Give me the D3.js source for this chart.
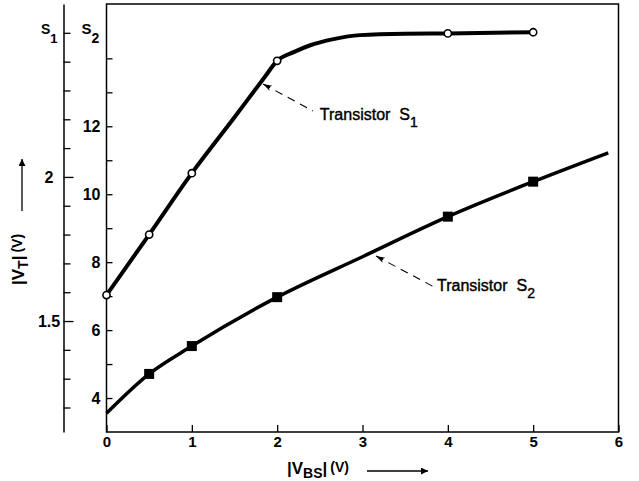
<!DOCTYPE html>
<html><head><meta charset="utf-8">
<script src="https://cdn.jsdelivr.net/npm/d3@7"></script>
<style>body{margin:0;background:#fff}svg{display:block}</style>
</head><body>
<svg id="c" width="639" height="481"></svg>
<script>
// ---- data ----
const xTicks = [0, 1, 2, 3, 4, 5, 6];
const s2Ticks = [4, 5, 6, 7, 8, 9, 10, 11, 12, 13, 14];
const s2Labels = [4, 6, 8, 10, 12];
const s1Ticks = [1.2, 1.3, 1.4, 1.5, 1.6, 1.7, 1.8, 1.9, 2.0, 2.1, 2.2, 2.3, 2.4, 2.5];
const s1Labels = [1.5, 2];

// Transistor S1 (read on the S1 axis)
const s1MarkX = [0, 0.5, 1, 2, 4, 5];
const s1MarkY = [1.59, 1.80, 2.013, 2.403, 2.498, 2.502];
const s1CurveX = [0, 0.5, 1, 1.5, 1.85, 2, 2.2, 2.38, 2.66, 2.97, 3.5, 4, 5];
const s1CurveY = [1.59, 1.80, 2.013, 2.207, 2.345, 2.403, 2.434, 2.456, 2.478, 2.492, 2.497, 2.498, 2.502];

// Transistor S2 (read on the S2 axis)
const s2MarkX = [0.5, 1, 2, 4, 5];
const s2MarkY = [4.71, 5.53, 6.97, 9.34, 10.37];
const s2CurveX = [0, 0.5, 1, 2, 3, 4, 5, 5.88];
const s2CurveY = [3.55, 4.71, 5.53, 6.97, 8.16, 9.34, 10.37, 11.22];

// annotation anchors (data coordinates)
const noteS1 = {tip: [1.834, 2.3225], tail: [2.42, 2.229], text: [2.5, 2.198]};
const noteS2 = {tip: [3.158, 8.18], tail: [3.838, 7.27], text: [3.873, 7.15]};

// ---- chart ----
const F = '"Liberation Sans", Arial, Helvetica, sans-serif';
const svg = d3.select('#c');
const x = d3.scaleLinear().domain([0, 6]).range([106.5, 618.5]);
const y2 = d3.scaleLinear().domain([3, 15.6]).range([432, 4]);
const y1 = d3.scaleLinear().domain([1.115, 2.6]).range([432, 4]);

const defs = svg.append('defs');
defs.append('marker').attr('id', 'ah').attr('viewBox', '0 0 10 10').attr('refX', 0).attr('refY', 5)
  .attr('markerWidth', 9).attr('markerHeight', 9).attr('markerUnits', 'userSpaceOnUse').attr('orient', 'auto')
  .append('path').attr('d', 'M0,5L10,1.8L7.5,5L10,8.2Z').attr('fill', '#000');
defs.append('marker').attr('id', 'big').attr('viewBox', '0 0 10 10').attr('refX', 10).attr('refY', 5)
  .attr('markerWidth', 9).attr('markerHeight', 7).attr('markerUnits', 'userSpaceOnUse').attr('orient', 'auto')
  .append('path').attr('d', 'M0,0L10,5L0,10Z').attr('fill', '#000');

// frame
svg.append('rect')
  .attr('x', x(0)).attr('y', y2(15.6))
  .attr('width', x(6) - x(0)).attr('height', y2(3) - y2(15.6))
  .attr('fill', 'none').attr('stroke', '#000').attr('stroke-width', 1.5);

function styleAxis(g, size) {
  g.selectAll('text').attr('font-family', F).attr('font-size', size).attr('font-weight', 'bold').attr('fill', '#000');
  g.selectAll('line').attr('stroke', '#000').attr('stroke-width', 1.3);
  g.select('.domain').attr('stroke', '#000').attr('stroke-width', 1.5);
}

// x axis
const gx = svg.append('g').attr('transform', `translate(0,${y2(3)})`)
  .call(d3.axisBottom(x).tickValues(xTicks).tickSize(-7).tickPadding(4).tickFormat(d3.format('d')));
gx.select('.domain').remove();
styleAxis(gx, 15);

// S2 axis (inner)
const gs2 = svg.append('g').attr('transform', `translate(${x(0)},0)`)
  .call(d3.axisLeft(y2).tickValues(s2Ticks).tickSize(-6).tickPadding(6)
    .tickFormat(d => s2Labels.includes(d) ? String(d) : ''));
gs2.select('.domain').remove();
styleAxis(gs2, 16);

// S1 axis (outer)
const gs1 = svg.append('g').attr('transform', 'translate(63.5,0)')
  .call(d3.axisLeft(y1).tickValues(s1Ticks).tickSizeInner(-7).tickSizeOuter(0)
    .tickFormat(d => s1Labels.includes(d) ? d3.format('')(d) : ''));
styleAxis(gs1, 16);
gs1.selectAll('.tick text').attr('x', -14.5).attr('text-anchor', 'middle');
gs1.selectAll('.tick').filter(d => s1Labels.includes(d)).select('line').attr('x2', 10);

// axis names S1 / S2
function subLabel(px, py, main, sub, fs) {
  const t = svg.append('text').attr('x', px).attr('y', py)
    .attr('font-family', F).attr('font-weight', 'bold').attr('font-size', fs);
  t.append('tspan').text(main);
  t.append('tspan').attr('dy', 9).attr('font-size', fs - 1).text(sub);
}
subLabel(41, 34, 'S', '1', 14);
subLabel(81.5, 34, 'S', '2', 15);

// curves
const lineS1 = d3.line().x(i => x(s1CurveX[i])).y(i => y1(s1CurveY[i])).curve(d3.curveMonotoneX);
const lineS2 = d3.line().x(i => x(s2CurveX[i])).y(i => y2(s2CurveY[i])).curve(d3.curveMonotoneX);
svg.append('path').attr('d', lineS1(d3.range(s1CurveX.length)))
  .attr('fill', 'none').attr('stroke', '#000').attr('stroke-width', 4).attr('stroke-linejoin', 'round');
svg.append('path').attr('d', lineS2(d3.range(s2CurveX.length)))
  .attr('fill', 'none').attr('stroke', '#000').attr('stroke-width', 3.5).attr('stroke-linejoin', 'round');

// markers
svg.append('g').selectAll('circle').data(d3.range(s1MarkX.length)).join('circle')
  .attr('cx', i => x(s1MarkX[i])).attr('cy', i => y1(s1MarkY[i])).attr('r', 3.6)
  .attr('fill', '#fff').attr('stroke', '#000').attr('stroke-width', 1.6);
const sq = 10;
svg.append('g').selectAll('rect').data(d3.range(s2MarkX.length)).join('rect')
  .attr('x', i => x(s2MarkX[i]) - sq / 2).attr('y', i => y2(s2MarkY[i]) - sq / 2)
  .attr('width', sq).attr('height', sq).attr('fill', '#000');

// annotations
function note(n, ys, sub) {
  svg.append('line')
    .attr('x1', x(n.tip[0])).attr('y1', ys(n.tip[1]))
    .attr('x2', x(n.tail[0])).attr('y2', ys(n.tail[1]))
    .attr('stroke', '#000').attr('stroke-width', 1.1).attr('stroke-dasharray', '8,6')
    .attr('marker-start', 'url(#ah)');
  const t = svg.append('text').attr('x', x(n.text[0])).attr('y', ys(n.text[1]))
    .attr('font-family', F).attr('font-size', 16).attr('fill', '#000')
    .attr('stroke', '#000').attr('stroke-width', 0.4);
  t.append('tspan').text('Transistor');
  t.append('tspan').attr('dx', 9).text('S');
  t.append('tspan').attr('dy', 7).attr('font-size', 14).text(sub);
}
note(noteS1, y1, '1');
note(noteS2, y2, '2');

// axis titles
function title(g, sub) {
  const t = g.append('text').attr('font-family', F).attr('font-weight', 'bold').attr('fill', '#000');
  t.append('tspan').attr('font-size', 17).text('|V');
  t.append('tspan').attr('font-size', 14).attr('dy', 4).text(sub);
  t.append('tspan').attr('font-size', 17).attr('dy', -4).text('|');
  t.append('tspan').attr('font-size', 14).attr('dx', 3).attr('dy', -2).text('(V)');
  return t;
}
const tx = svg.append('g').attr('transform', 'translate(287,474)');
title(tx, 'BS');
svg.append('line').attr('x1', 367).attr('y1', 471).attr('x2', 428).attr('y2', 471)
  .attr('stroke', '#000').attr('stroke-width', 1.3).attr('marker-end', 'url(#big)');

const ty = svg.append('g').attr('transform', 'translate(24,285) rotate(-90)');
title(ty, 'T');
svg.append('line').attr('x1', 22).attr('y1', 211).attr('x2', 22).attr('y2', 159)
  .attr('stroke', '#000').attr('stroke-width', 1.3).attr('marker-end', 'url(#big)');
</script>
</body></html>
